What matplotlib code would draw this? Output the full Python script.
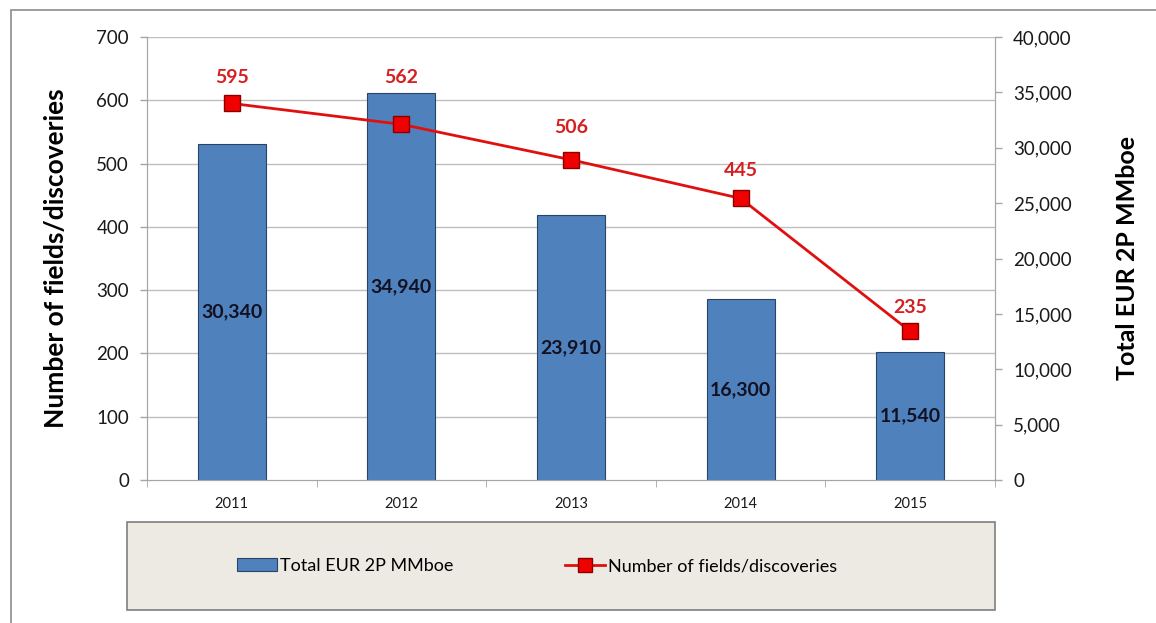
import matplotlib.pyplot as plt
from matplotlib.patches import Rectangle, Patch
from matplotlib.lines import Line2D
from matplotlib.ticker import FuncFormatter

years = ['2011', '2012', '2013', '2014', '2015']
eur_mmboe = [30340, 34940, 23910, 16300, 11540]
n_fields = [595, 562, 506, 445, 235]
label_lift = [19, 34, 23, 20, 17]  # points above each marker

plt.rcParams['font.family'] = ['Lato', 'DejaVu Sans']

fig = plt.figure(figsize=(11.56, 6.23), dpi=100)
W, H = 1156, 623

# outer frame
fig.add_artist(Rectangle((11 / W, -0.02), 1.02, 1 - 10 / H + 0.02, transform=fig.transFigure,
                         fill=False, edgecolor='#8c8c8c', lw=1.2))

ax_bar = fig.add_axes([147 / W, 1 - 480 / H, 848 / W, 443 / H])
ax_line = ax_bar.twinx()

x = list(range(len(years)))

# bars (right axis)
ax_bar.bar(x, eur_mmboe, width=0.4, color='#4F81BD', edgecolor='#2a4466', lw=0.8, zorder=2)
ax_bar.set_ylim(0, 40000)
ax_bar.set_xlim(-0.5, 4.5)
ax_bar.yaxis.tick_right()
ax_bar.yaxis.set_label_position('right')
ax_bar.set_yticks(range(0, 40001, 5000))
ax_bar.yaxis.set_major_formatter(FuncFormatter(lambda v, p: f'{int(v):,}'))
for i, v in enumerate(eur_mmboe):
    ax_bar.text(i, v / 2, f'{v:,}', ha='center', va='center', fontsize=14,
                fontweight='bold', color='#111122', zorder=3)

# line (left axis)
ax_line.plot(x, n_fields, color='#E0100F', lw=2, marker='s', markersize=12,
             markerfacecolor='#F00000', markeredgecolor='#8a0000', zorder=5)
ax_line.set_ylim(0, 700)
ax_line.set_yticks(range(0, 701, 100))
ax_line.yaxis.tick_left()
ax_line.yaxis.set_label_position('left')
for i, v in enumerate(n_fields):
    ax_line.annotate(str(v), (i, v), xytext=(0, label_lift[i]), textcoords='offset points',
                     ha='center', va='center', fontsize=14, fontweight='bold', color='#D42020')

# gridlines at left-axis ticks, drawn behind bars
ax_bar.hlines(ax_line.get_yticks()[1:], -0.5, 4.5, transform=ax_line.transData,
              colors='#bfbfbf', lw=1, zorder=1)

ax_line.set_ylabel('Number of fields/discoveries', fontsize=19, fontweight='bold', labelpad=20)
ax_bar.set_ylabel('Total EUR 2P MMboe', fontsize=18, fontweight='bold', labelpad=32)

for a in (ax_bar, ax_line):
    for s in a.spines.values():
        s.set_color('#a6a6a6')
    a.spines['top'].set_visible(False)
    a.tick_params(axis='y', colors='#a6a6a6', labelcolor='#1a1a1a', labelsize=13.5,
                  length=5, width=1, pad=8)

ax_bar.set_xticks(x)
ax_bar.set_xticklabels(years, fontsize=10.5, color='#1a1a1a')
ax_bar.tick_params(axis='x', which='major', length=0, pad=12)
ax_bar.set_xticks([i - 0.5 for i in range(len(years) + 1)], minor=True)
ax_bar.tick_params(axis='x', which='minor', length=5, color='#a6a6a6')

# legend box
fig.add_artist(Rectangle((127 / W, 1 - 610 / H), 868 / W, 88 / H, transform=fig.transFigure,
                         facecolor='#ECEAE2', edgecolor='#7f7f7f', lw=1.2))
handles = [Patch(facecolor='#4F81BD', edgecolor='#2a4466', lw=0.8),
           Line2D([], [], color='#E0100F', lw=2, marker='s', markersize=10,
                  markerfacecolor='#F00000', markeredgecolor='#8a0000')]
fig.legend(handles, ['Total EUR 2P MMboe', 'Number of fields/discoveries'],
           loc='center', bbox_to_anchor=(537 / W, 1 - 566 / H), ncol=2, frameon=False,
           fontsize=13, handlelength=2.2, handletextpad=0.15, columnspacing=6.2)

fig.savefig('out.png', dpi=100)
